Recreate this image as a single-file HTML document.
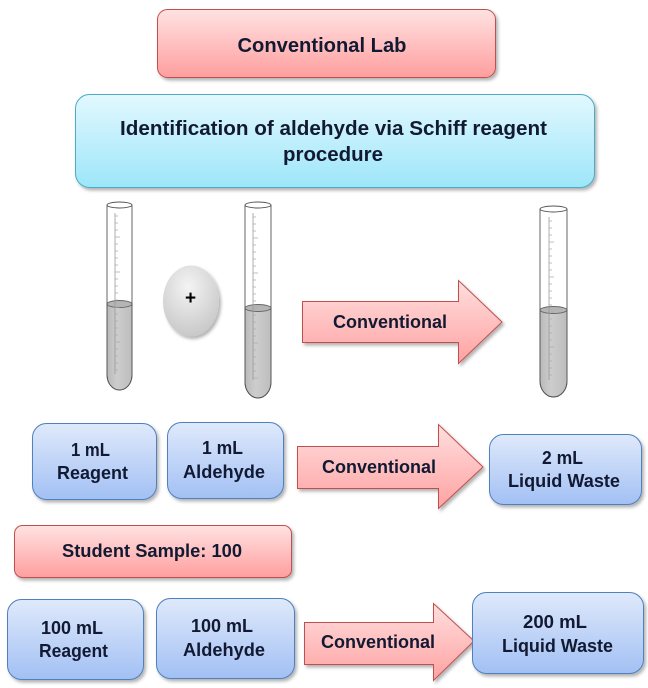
<!DOCTYPE html>
<html><head><meta charset="utf-8">
<style>
html,body{margin:0;padding:0;background:#fff;width:648px;height:688px;overflow:hidden}
svg{display:block}
text{font-family:"Liberation Sans",Arial,sans-serif;font-weight:bold;fill:#121a33}
</style></head>
<body>
<svg width="648" height="688" viewBox="0 0 648 688" xmlns="http://www.w3.org/2000/svg">
<defs>
<linearGradient id="gRed" x1="0" y1="0" x2="0" y2="1">
<stop offset="0" stop-color="#ffe2e2"/><stop offset="1" stop-color="#ff9e9e"/></linearGradient>
<linearGradient id="gCyan" x1="0" y1="0" x2="0" y2="1">
<stop offset="0" stop-color="#e2f8fe"/><stop offset="1" stop-color="#9de6f9"/></linearGradient>
<linearGradient id="gBlue" x1="0" y1="0" x2="0" y2="1">
<stop offset="0" stop-color="#dfe9fb"/><stop offset="1" stop-color="#a2c0f4"/></linearGradient>
<linearGradient id="gArrow" x1="0" y1="0" x2="0" y2="1">
<stop offset="0" stop-color="#ffdede"/><stop offset="1" stop-color="#ffa2a2"/></linearGradient>
<radialGradient id="gOval" cx="0.45" cy="0.3" r="0.8">
<stop offset="0" stop-color="#f4f4f4"/><stop offset="1" stop-color="#c2c2c2"/></radialGradient>
<linearGradient id="gLiq" x1="0" y1="0" x2="1" y2="0">
<stop offset="0" stop-color="#b9b9b9"/><stop offset="0.4" stop-color="#cdcdcd"/><stop offset="1" stop-color="#bdbdbd"/></linearGradient>
<filter id="sh" x="-10%" y="-10%" width="125%" height="130%">
<feDropShadow dx="2" dy="2.5" stdDeviation="1.5" flood-color="#000" flood-opacity="0.3"/></filter>
</defs>

<rect x="157.5" y="9.5" width="338" height="68" rx="10" fill="url(#gRed)" stroke="#c0504d" stroke-width="1" filter="url(#sh)"/>
<text x="322" y="52" font-size="20" text-anchor="middle" textLength="169" lengthAdjust="spacingAndGlyphs">Conventional Lab</text>

<rect x="75.5" y="94.5" width="519" height="93" rx="14" fill="url(#gCyan)" stroke="#4bacc6" stroke-width="1" filter="url(#sh)"/>
<text x="333.5" y="135" font-size="20" text-anchor="middle" textLength="427" lengthAdjust="spacingAndGlyphs">Identification of aldehyde via Schiff reagent</text>
<text x="333" y="161" font-size="20" text-anchor="middle" textLength="100" lengthAdjust="spacingAndGlyphs">procedure</text>

<g stroke="#555" stroke-width="0.9">
<path d="M107 304 L107 375 A12.5 15 0 0 0 132 375 L132 304 Z" fill="url(#gLiq)"/>
<ellipse cx="119.5" cy="304" rx="12.5" ry="3.5" fill="#b5b5b5" stroke="#666"/>
<path d="M107 205 L107 375 A12.5 15 0 0 0 132 375 L132 205" fill="none"/>
<ellipse cx="119.5" cy="205" rx="12.5" ry="3" fill="#fff"/>
</g>
<g stroke="#999" stroke-width="0.8"><line x1="115" y1="213" x2="115" y2="374"/></g>
<g stroke="#aaa" stroke-width="0.7">
<path d="M115 216h3M115 223h3M115 230h3M115 237h5M115 244h3M115 251h3M115 258h3M115 265h3M115 272h5M115 279h3M115 286h3M115 293h3M115 300h3M115 307h5M115 314h3M115 321h3M115 328h3M115 335h3M115 342h5M115 349h3M115 356h3M115 363h3M115 370h3"/>
</g>

<ellipse cx="191" cy="301" rx="28" ry="35.5" fill="url(#gOval)" filter="url(#sh)"/>
<text x="190.5" y="304" font-size="19" text-anchor="middle" style="fill:#000">+</text>

<g stroke="#555" stroke-width="0.9">
<path d="M245 308 L245 382 A13 16 0 0 0 271 382 L271 308 Z" fill="url(#gLiq)"/>
<ellipse cx="258" cy="308" rx="13" ry="3.5" fill="#b5b5b5" stroke="#666"/>
<path d="M245 205 L245 382 A13 16 0 0 0 271 382 L271 205" fill="none"/>
<ellipse cx="258" cy="205" rx="13" ry="3" fill="#fff"/>
</g>
<g stroke="#999" stroke-width="0.8"><line x1="253" y1="213" x2="253" y2="380"/></g>
<g stroke="#aaa" stroke-width="0.7">
<path d="M253 217h3M253 224h3M253 231h3M253 238h5M253 245h3M253 252h3M253 259h3M253 266h3M253 273h5M253 280h3M253 287h3M253 294h3M253 301h3M253 308h5M253 315h3M253 322h3M253 329h3M253 336h3M253 343h5M253 350h3M253 357h3M253 364h3M253 371h3M253 378h5"/>
</g>

<path d="M302.5 301.5 H458.5 V280.5 L502 322 L458.5 363.5 V342.5 H302.5 Z" fill="url(#gArrow)" stroke="#c0504d" stroke-width="1" filter="url(#sh)"/>
<text x="390" y="328" font-size="18" text-anchor="middle" textLength="114" lengthAdjust="spacingAndGlyphs">Conventional</text>

<g stroke="#555" stroke-width="0.9">
<path d="M540 310 L540 381 A13.5 16 0 0 0 567 381 L567 310 Z" fill="url(#gLiq)"/>
<ellipse cx="553.5" cy="310" rx="13.5" ry="3.5" fill="#b5b5b5" stroke="#666"/>
<path d="M540 209 L540 381 A13.5 16 0 0 0 567 381 L567 209" fill="none"/>
<ellipse cx="553.5" cy="209" rx="13.5" ry="3" fill="#fff"/>
</g>
<g stroke="#999" stroke-width="0.8"><line x1="549" y1="217" x2="549" y2="380"/></g>
<g stroke="#aaa" stroke-width="0.7">
<path d="M549 221h3M549 228h3M549 235h3M549 242h5M549 249h3M549 256h3M549 263h3M549 270h3M549 277h5M549 284h3M549 291h3M549 298h3M549 305h3M549 312h5M549 319h3M549 326h3M549 333h3M549 340h3M549 347h5M549 354h3M549 361h3M549 368h3M549 375h3"/>
</g>

<rect x="32.5" y="423.5" width="124" height="76" rx="14" fill="url(#gBlue)" stroke="#4f81bd" stroke-width="1" filter="url(#sh)"/>
<text x="90.5" y="456" font-size="18" text-anchor="middle" textLength="39" lengthAdjust="spacingAndGlyphs">1 mL</text>
<text x="92.5" y="479" font-size="18" text-anchor="middle" textLength="71" lengthAdjust="spacingAndGlyphs">Reagent</text>

<rect x="167.5" y="422.5" width="116" height="76" rx="14" fill="url(#gBlue)" stroke="#4f81bd" stroke-width="1" filter="url(#sh)"/>
<text x="222.5" y="454" font-size="18" text-anchor="middle" textLength="41" lengthAdjust="spacingAndGlyphs">1 mL</text>
<text x="224" y="478" font-size="18" text-anchor="middle" textLength="82" lengthAdjust="spacingAndGlyphs">Aldehyde</text>

<path d="M297.5 446.5 H438.5 V424.5 L483 467 L438.5 508.5 V488.5 H297.5 Z" fill="url(#gArrow)" stroke="#c0504d" stroke-width="1" filter="url(#sh)"/>
<text x="379" y="473" font-size="18" text-anchor="middle" textLength="114" lengthAdjust="spacingAndGlyphs">Conventional</text>

<rect x="489.5" y="434.5" width="152" height="70" rx="14" fill="url(#gBlue)" stroke="#4f81bd" stroke-width="1" filter="url(#sh)"/>
<text x="562.5" y="464" font-size="18" text-anchor="middle" textLength="41" lengthAdjust="spacingAndGlyphs">2 mL</text>
<text x="564" y="487" font-size="18" text-anchor="middle" textLength="112" lengthAdjust="spacingAndGlyphs">Liquid Waste</text>

<rect x="14.5" y="525.5" width="277" height="52" rx="8" fill="url(#gRed)" stroke="#c0504d" stroke-width="1" filter="url(#sh)"/>
<text x="152" y="557" font-size="18" text-anchor="middle" textLength="180" lengthAdjust="spacingAndGlyphs">Student Sample: 100</text>

<rect x="7.5" y="599.5" width="136" height="80" rx="14" fill="url(#gBlue)" stroke="#4f81bd" stroke-width="1" filter="url(#sh)"/>
<text x="72" y="634" font-size="18" text-anchor="middle" textLength="62" lengthAdjust="spacingAndGlyphs">100 mL</text>
<text x="73.5" y="657" font-size="18" text-anchor="middle" textLength="69" lengthAdjust="spacingAndGlyphs">Reagent</text>

<rect x="156.5" y="598.5" width="138" height="80" rx="14" fill="url(#gBlue)" stroke="#4f81bd" stroke-width="1" filter="url(#sh)"/>
<text x="222" y="632" font-size="18" text-anchor="middle" textLength="62" lengthAdjust="spacingAndGlyphs">100 mL</text>
<text x="224" y="656" font-size="18" text-anchor="middle" textLength="82" lengthAdjust="spacingAndGlyphs">Aldehyde</text>

<path d="M304.5 622.5 H433.5 V603.5 L474 641 L433.5 680.5 V664.5 H304.5 Z" fill="url(#gArrow)" stroke="#c0504d" stroke-width="1" filter="url(#sh)"/>
<text x="378" y="648" font-size="18" text-anchor="middle" textLength="114" lengthAdjust="spacingAndGlyphs">Conventional</text>

<rect x="472.5" y="592.5" width="171" height="81" rx="14" fill="url(#gBlue)" stroke="#4f81bd" stroke-width="1" filter="url(#sh)"/>
<text x="555" y="628" font-size="18" text-anchor="middle" textLength="64" lengthAdjust="spacingAndGlyphs">200 mL</text>
<text x="557.5" y="652" font-size="18" text-anchor="middle" textLength="111" lengthAdjust="spacingAndGlyphs">Liquid Waste</text>
</svg>
</body></html>
